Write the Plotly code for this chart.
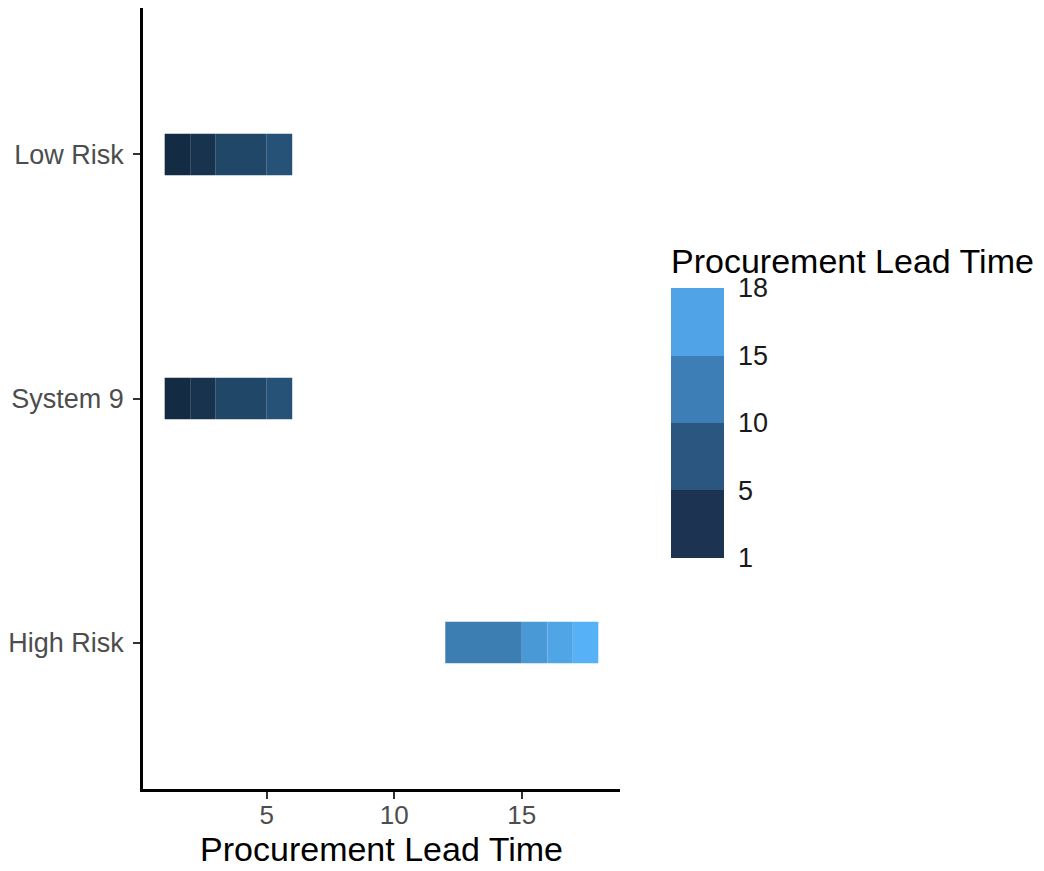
import plotly.graph_objects as go

# ---- data ----
categories = ["High Risk", "System 9", "Low Risk"]
seg_category = ["Low Risk"] * 4 + ["System 9"] * 4 + ["High Risk"] * 4
seg_start = [1, 2, 3, 5, 1, 2, 3, 5, 12, 15, 16, 17]
seg_end = [2, 3, 5, 6, 2, 3, 5, 6, 15, 16, 17, 18]
seg_value = [1, 2, 4.5, 6, 1, 2, 4.5, 6, 11.5, 15, 16.5, 18]
legend_breaks = [1, 5, 10, 15, 18]
x_ticks = [5, 10, 15]

seg_width = [e - s for s, e in zip(seg_start, seg_end)]

grad = [[0, "#132B43"], [1, "#56B1F7"]]
step_colors = ["#1c3451", "#2b5680", "#3d7eb6", "#4fa3e6"]
n = len(step_colors)
stepped = []
for i, c in enumerate(step_colors):
    stepped.append([i / n, c])
    stepped.append([(i + 1) / n, c])

fig = go.Figure()
fig.add_trace(go.Bar(
    y=seg_category, x=seg_width, base=seg_start, orientation="h",
    width=0.17,
    marker=dict(color=seg_value, colorscale=grad, cmin=min(legend_breaks),
                cmax=max(legend_breaks), showscale=False, line=dict(width=0)),
    showlegend=False, hoverinfo="skip",
))

# legend (stepped colour bar)
fig.add_trace(go.Scatter(
    x=[None], y=[None], mode="markers", showlegend=False, hoverinfo="skip",
    marker=dict(
        color=[0, n], cmin=0, cmax=n, colorscale=stepped, showscale=True,
        colorbar=dict(
            title=dict(text="Procurement Lead Time", side="top",
                       font=dict(size=34, color="#000000", family="Liberation Sans")),
            tickvals=list(range(len(legend_breaks))),
            ticktext=[str(b) for b in legend_breaks],
            ticks="outside", ticklen=9, tickcolor="rgba(0,0,0,0)", outlinewidth=0,
            thickness=53, lenmode="pixels", len=313,
            x=1.107, xanchor="left", xpad=0,
            y=0.2958, yanchor="bottom", ypad=0,
            tickfont=dict(size=27, color="#1a1a1a", family="Liberation Sans"),
        ),
    ),
))

fig.update_layout(
    width=1036, height=863,
    margin=dict(l=135, r=424, t=0, b=82, autoexpand=False),
    plot_bgcolor="white", paper_bgcolor="white",
    barmode="overlay",
    font=dict(family="Liberation Sans", color="#000000"),
    xaxis=dict(
        range=[0.15, 18.85], tickvals=x_ticks, ticks="outside", ticklen=7,
        tickwidth=2, tickcolor="#333333", showline=True, linecolor="#000000",
        linewidth=2.5, showgrid=False, zeroline=False, automargin=False,
        ticklabelstandoff=-6,
        tickfont=dict(size=26, color="#4d4d4d"),
        title=dict(text="Procurement Lead Time", font=dict(size=34, color="#000000"),
                   standoff=8),
    ),
    yaxis=dict(
        type="category", categoryorder="array", categoryarray=categories,
        range=[-0.6, 2.6], ticks="outside", ticklen=7, tickwidth=2,
        tickcolor="#333333", showline=True, linecolor="#000000", linewidth=2.5,
        showgrid=False, zeroline=False, ticklabelstandoff=4, automargin=False,
        tickfont=dict(size=27, color="#4d4d4d"),
    ),
)

fig.write_html("out.html")
